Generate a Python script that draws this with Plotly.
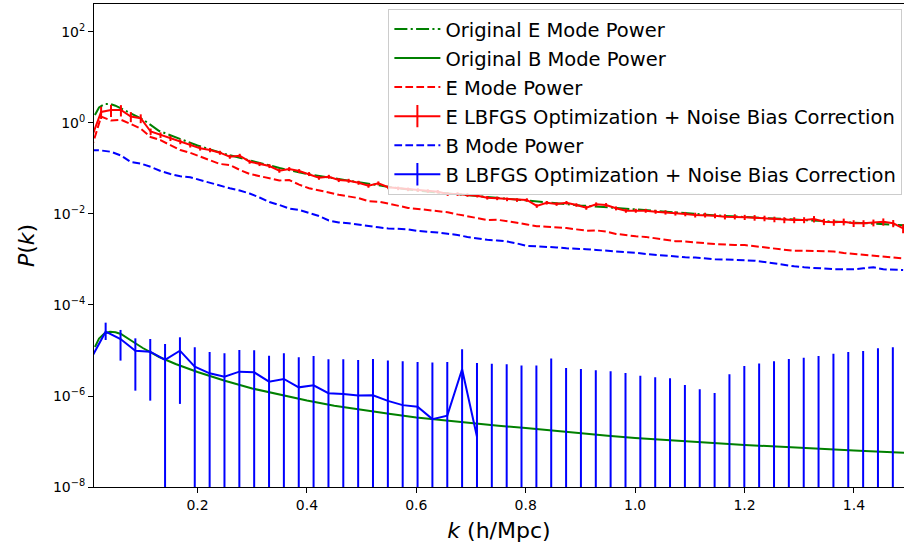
import plotly.graph_objects as go

# ---------------- data ----------------
# fine k grid of the reconstructed / measured E and B spectra
k_fine = [0.0057, 0.0238, 0.0419, 0.0600, 0.0781, 0.0962, 0.1143, 0.1324, 0.1505, 0.1686,
          0.1867, 0.2048, 0.2229, 0.2410, 0.2591, 0.2772, 0.2953, 0.3134, 0.3315, 0.3496,
          0.3677, 0.3858, 0.4039, 0.4220, 0.4401, 0.4582, 0.4763, 0.4944, 0.5125, 0.5306,
          0.5487, 0.5668, 0.5849, 0.6030, 0.6211, 0.6392, 0.6573, 0.6754, 0.6935, 0.7116,
          0.7297, 0.7478, 0.7659, 0.7840, 0.8021, 0.8202, 0.8383, 0.8564, 0.8745, 0.8926,
          0.9107, 0.9288, 0.9469, 0.9650, 0.9831, 1.0012, 1.0193, 1.0374, 1.0555, 1.0736,
          1.0917, 1.1098, 1.1279, 1.1460, 1.1641, 1.1822, 1.2003, 1.2184, 1.2365, 1.2546,
          1.2727, 1.2908, 1.3089, 1.3270, 1.3451, 1.3632, 1.3813, 1.3994, 1.4175, 1.4356,
          1.4537, 1.4718, 1.4899]

E_lbfgs = [0.45, 1.745, 1.93, 1.93, 1.39, 1.27, 0.65, 0.545, 0.461, 0.388,
           0.328, 0.278, 0.255, 0.2225, 0.1816, 0.191, 0.141, 0.1256, 0.1135, 0.0895,
           0.0975, 0.0881, 0.0757, 0.0628, 0.0660, 0.0559, 0.0539, 0.0487, 0.0419, 0.0473,
           0.0386, 0.0367, 0.0349, 0.0337, 0.0320, 0.0309, 0.0275, 0.0275, 0.0262, 0.0253,
           0.0228, 0.0221, 0.0210, 0.0203, 0.0203, 0.0150, 0.0177, 0.0166, 0.0177, 0.0158,
           0.01376, 0.01635, 0.0158, 0.01334, 0.01182, 0.01182, 0.01182, 0.01123, 0.01090, 0.01036,
           0.0100, 0.00951, 0.00951, 0.00918, 0.00873, 0.00873, 0.00847, 0.00829, 0.00805, 0.00765,
           0.00738, 0.00738, 0.00738, 0.00776, 0.00677, 0.00657, 0.00677, 0.00624, 0.00624, 0.00644,
           0.00677, 0.00624, 0.00485]

E_lbfgs_relerr = [0.30, 0.30, 0.30, 0.28, 0.25, 0.22, 0.16, 0.14, 0.13, 0.12,
                  0.12, 0.11, 0.11, 0.10, 0.10, 0.10, 0.10, 0.10, 0.10, 0.10,
                  0.10, 0.10, 0.10, 0.10, 0.10, 0.10, 0.10, 0.10, 0.10, 0.10,
                  0.09, 0.09, 0.09, 0.09, 0.09, 0.09, 0.09, 0.09, 0.09, 0.09,
                  0.09, 0.09, 0.09, 0.09, 0.09, 0.09, 0.09, 0.09, 0.09, 0.09,
                  0.10, 0.10, 0.10, 0.10, 0.10, 0.10, 0.10, 0.10, 0.11, 0.11,
                  0.11, 0.12, 0.12, 0.12, 0.13, 0.13, 0.13, 0.14, 0.14, 0.14,
                  0.15, 0.15, 0.15, 0.16, 0.16, 0.16, 0.17, 0.17, 0.17, 0.17,
                  0.18, 0.18, 0.22]

E_mode = [0.268, 1.375, 1.135, 1.176, 0.951, 0.749, 0.492, 0.419, 0.325, 0.2537,
          0.2214, 0.1817, 0.1484, 0.1256, 0.1194, 0.0932, 0.0761, 0.0688, 0.0612, 0.0545,
          0.0559, 0.0441, 0.0367, 0.0337, 0.0298, 0.0264, 0.0242, 0.02236, 0.01911, 0.01863,
          0.01693, 0.01530, 0.01361, 0.01294, 0.01237, 0.01176, 0.01090, 0.00980, 0.00890, 0.00817,
          0.00738, 0.00749, 0.00702, 0.00641, 0.00588, 0.00539, 0.00526, 0.00515, 0.00492, 0.00459,
          0.00430, 0.00436, 0.00410, 0.00365, 0.00342, 0.00324, 0.00314, 0.00294, 0.00268, 0.00253,
          0.00249, 0.00242, 0.00228, 0.00219, 0.00210, 0.00208, 0.00207, 0.00194, 0.00183, 0.00172,
          0.00162, 0.00155, 0.00155, 0.00154, 0.00149, 0.00150, 0.00139, 0.00133, 0.00126, 0.00121,
          0.00116, 0.00111, 0.00106]

B_mode = [0.255, 0.2487, 0.2328, 0.1931, 0.139, 0.1288, 0.109, 0.0881, 0.0757, 0.0674,
          0.0641, 0.0559, 0.0480, 0.0412, 0.0367, 0.0328, 0.0282, 0.02305, 0.01835, 0.01577,
          0.01321, 0.01224, 0.01036, 0.00904, 0.00720, 0.00650, 0.00625, 0.00579, 0.00531, 0.00510,
          0.00480, 0.00468, 0.00461, 0.00423, 0.00410, 0.00392, 0.00367, 0.00346, 0.00312, 0.00289,
          0.00271, 0.00262, 0.00249, 0.00225, 0.00198, 0.00195, 0.00191, 0.00184, 0.00176, 0.00174,
          0.00168, 0.00162, 0.00156, 0.00151, 0.00148, 0.00140, 0.00132, 0.00126, 0.00121, 0.00116,
          0.00112, 0.00110, 0.00105, 0.00101, 0.00100, 0.00098, 0.00096, 0.00094, 0.00088, 0.00081,
          0.000757, 0.000709, 0.000674, 0.000650, 0.000631, 0.000612, 0.000610, 0.000610, 0.000640, 0.000674,
          0.000610, 0.000597, 0.000588]

# smooth "original" (input) spectra
k_orig = [0.0125, 0.02, 0.03, 0.04, 0.05, 0.06, 0.08, 0.10, 0.13, 0.16,
          0.20, 0.25, 0.30, 0.35, 0.40, 0.45, 0.50, 0.55, 0.60, 0.65,
          0.70, 0.75, 0.80, 0.85, 0.90, 0.95, 1.00, 1.05, 1.10, 1.15,
          1.20, 1.25, 1.30, 1.35, 1.40, 1.45, 1.50]
E_orig = [1.50, 2.20, 2.62, 2.62, 2.40, 2.10, 1.62, 1.20, 0.667, 0.480,
          0.320, 0.2084, 0.1461, 0.1026, 0.0757, 0.0603, 0.0480, 0.0392, 0.0329, 0.0289,
          0.0249, 0.0219, 0.0193, 0.01745, 0.01538, 0.01404, 0.01256, 0.01135, 0.01026, 0.00927,
          0.00859, 0.00796, 0.00738, 0.00684, 0.00644, 0.00603, 0.00559]
B_orig = [1.193e-5, 1.835e-5, 2.363e-5, 2.576e-5, 2.524e-5, 2.305e-5, 1.617e-5, 1.134e-5, 7.2e-6, 5.05e-6,
          3.37e-6, 2.17e-6, 1.462e-6, 1.063e-6, 7.96e-7, 6.09e-7, 4.92e-7, 4.06e-7, 3.37e-7, 2.92e-7,
          2.52e-7, 2.225e-7, 1.98e-7, 1.719e-7, 1.514e-7, 1.334e-7, 1.194e-7, 1.107e-7, 1.015e-7, 9.18e-8,
          8.42e-8, 7.8e-8, 7.27e-8, 6.77e-8, 6.34e-8, 5.97e-8, 5.64e-8]

# coarse k grid of the B reconstruction (None = non-positive, not drawn on log axis)
k_B = [0.0050, 0.0321, 0.0593, 0.0864, 0.1136, 0.1407, 0.1679, 0.1950, 0.2222, 0.2493,
       0.2765, 0.3036, 0.3308, 0.3579, 0.3851, 0.4122, 0.4394, 0.4665, 0.4937, 0.5208,
       0.5480, 0.5751, 0.6023, 0.6294, 0.6566, 0.6837, 0.7109, 0.7380, 0.7652, 0.7923,
       0.8195, 0.8466, 0.8738, 0.9009, 0.9281, 0.9552, 0.9824, 1.0095, 1.0367, 1.0638,
       1.0910, 1.1181, 1.1453, 1.1724, 1.1996, 1.2267, 1.2539, 1.2810, 1.3082, 1.3353,
       1.3625, 1.3896, 1.4168, 1.4439, 1.4711]
B_lbfgs = [6.5e-6, 2.59e-5, 1.79e-5, 9.9e-6, 9.4e-6, 6.2e-6, 9.9e-6, 4.4e-6, 3.15e-6, 2.66e-6,
           3.43e-6, 3.31e-6, 2.07e-6, 2.37e-6, 1.55e-6, 1.72e-6, 1.15e-6, 1.11e-6, 1.02e-6, 1.04e-6,
           7.8e-7, 6.3e-7, 5.8e-7, 3.1e-7, 3.7e-7, 3.86e-6, 1.27e-7, None, None, None,
           None, None, None, None, None, None, None, None, None, None,
           None, None, None, None, None, None, None, None, None, None,
           None, None, None, None, None]
B_upper = [1.6e-5, 4.09e-5, 2.83e-5, 1.85e-5, 1.79e-5, 1.39e-5, 1.95e-5, 1.18e-5, 9.3e-6, 8.7e-6,
           1.03e-5, 1.01e-5, 7.7e-6, 8.7e-6, 7.1e-6, 7.6e-6, 6.4e-6, 6.4e-6, 6.2e-6, 6.5e-6,
           6.0e-6, 5.8e-6, 5.6e-6, 5.45e-6, 5.6e-6, 1.06e-5, 5.3e-6, 5.1e-6, 5.0e-6, 4.7e-6,
           4.7e-6, 6.7e-6, 4.1e-6, 3.9e-6, 3.7e-6, 3.5e-6, 3.2e-6, 2.8e-6, 2.58e-6, 2.45e-6,
           1.75e-6, 1.40e-6, 1.16e-6, 3.0e-6, 4.56e-6, 5.2e-6, 5.8e-6, 6.5e-6, 6.95e-6, 7.6e-6,
           8.5e-6, 9.3e-6, 9.75e-6, 1.12e-5, 1.18e-5]
# lower end of each error bar; None = below zero (bar runs off the bottom of the log axis)
B_lower = [2.0e-6, 1.70e-5, 5.99e-6, 1.31e-6, 7.9e-7, None, 6.7e-7, None, None, None,
           None, None, None, None, None, None, None, None, None, None,
           None, None, None, None, None, None, None, None, None, None,
           None, None, None, None, None, None, None, None, None, None,
           None, None, None, None, None, None, None, None, None, None,
           None, None, None, None, None]

# axis ticks
x_ticks = [0.2, 0.4, 0.6, 0.8, 1.0, 1.2, 1.4]
x_ticklabels = ["0.2", "0.4", "0.6", "0.8", "1.0", "1.2", "1.4"]
y_ticks = [1e-8, 1e-6, 1e-4, 1e-2, 1e0, 1e2]
y_ticklabels = ["10<sup>\u22128</sup>", "10<sup>\u22126</sup>", "10<sup>\u22124</sup>",
                "10<sup>\u22122</sup>", "10<sup>0</sup>", "10<sup>2</sup>"]

AXIS_FLOOR = 1e-12  # stand-in for non-positive lower bounds (off-scale on a log axis)

# ---------------- figure ----------------
GREEN, RED, BLUE = "#008000", "#ff0000", "#0000ff"
LW = 2
DASH = "7.7px,3.3px"
DASHDOT = "13px,3.3px,2.1px,3.3px"

fig = go.Figure()

fig.add_trace(go.Scatter(x=k_orig, y=E_orig, mode="lines", name="Original E Mode Power",
                         legendgroup="g1", line=dict(color=GREEN, width=LW, dash=DASHDOT)))
fig.add_trace(go.Scatter(x=k_orig, y=B_orig, mode="lines", name="Original B Mode Power",
                         legendgroup="g2", line=dict(color=GREEN, width=LW)))
fig.add_trace(go.Scatter(x=k_fine, y=E_mode, mode="lines", name="E Mode Power",
                         legendgroup="g3", line=dict(color=RED, width=LW, dash=DASH)))

# legend handle for the E reconstruction (line + vertical error tick)
fig.add_trace(go.Scatter(x=[None], y=[None], mode="lines+markers",
                         name="E LBFGS Optimization + Noise Bias Correction", legendgroup="g4",
                         line=dict(color=RED, width=LW),
                         marker=dict(symbol="line-ns-open", size=18, color=RED,
                                     line=dict(color=RED, width=LW))))
E_abs_err = [v * r for v, r in zip(E_lbfgs, E_lbfgs_relerr)]
fig.add_trace(go.Scatter(x=k_fine, y=E_lbfgs, mode="lines", showlegend=False, legendgroup="g4",
                         line=dict(color=RED, width=LW),
                         error_y=dict(type="data", array=E_abs_err, arrayminus=E_abs_err,
                                      symmetric=False, color=RED, thickness=LW, width=0)))

fig.add_trace(go.Scatter(x=k_fine, y=B_mode, mode="lines", name="B Mode Power",
                         legendgroup="g5", line=dict(color=BLUE, width=LW, dash=DASH)))

fig.add_trace(go.Scatter(x=[None], y=[None], mode="lines+markers",
                         name="B LBFGS Optimization + Noise Bias Correction", legendgroup="g6",
                         line=dict(color=BLUE, width=LW),
                         marker=dict(symbol="line-ns-open", size=18, color=BLUE,
                                     line=dict(color=BLUE, width=LW))))
fig.add_trace(go.Scatter(x=k_B, y=B_lbfgs, mode="lines", showlegend=False, legendgroup="g6",
                         line=dict(color=BLUE, width=LW)))
# B error bars as vertical segments
bx, by = [], []
for kk, hi, lo in zip(k_B, B_upper, B_lower):
    bx += [kk, kk, None]
    by += [lo if lo is not None else AXIS_FLOOR, hi, None]
fig.add_trace(go.Scatter(x=bx, y=by, mode="lines", showlegend=False, legendgroup="g6",
                         line=dict(color=BLUE, width=LW)))

FONT = "DejaVu Sans, Verdana, sans-serif"
fig.update_layout(
    width=904, height=554,
    margin=dict(l=94, r=0, t=4, b=67),
    paper_bgcolor="white", plot_bgcolor="white",
    font=dict(family=FONT, color="black", size=14),
    showlegend=True,
    legend=dict(x=0.998, xanchor="right", y=0.99, yanchor="top",
                bgcolor="rgba(255,255,255,0.8)", bordercolor="#cccccc", borderwidth=1,
                font=dict(family=FONT, size=19.5, color="black"),
                itemwidth=46, tracegroupgap=0.7, itemclick=False),
    xaxis=dict(range=[0.0108, 1.4915], tickvals=x_ticks, ticktext=x_ticklabels,
               ticks="outside", ticklen=5, tickwidth=1, tickcolor="black",
               showline=True, linecolor="black", linewidth=1, mirror=True,
               showgrid=False, zeroline=False,
               tickfont=dict(size=14),
               title=dict(text="<i>k</i> (h/Mpc)", font=dict(size=22), standoff=10)),
    yaxis=dict(type="log", range=[-8, 2.615], tickvals=y_ticks, ticktext=y_ticklabels,
               ticks="outside", ticklen=5, tickwidth=1, tickcolor="black",
               showline=True, linecolor="black", linewidth=1, mirror=True,
               showgrid=False, zeroline=False,
               tickfont=dict(size=14),
               title=dict(text="<i>P</i>(<i>k</i>)", font=dict(size=22), standoff=12)),
)

fig.write_html("out.html")
